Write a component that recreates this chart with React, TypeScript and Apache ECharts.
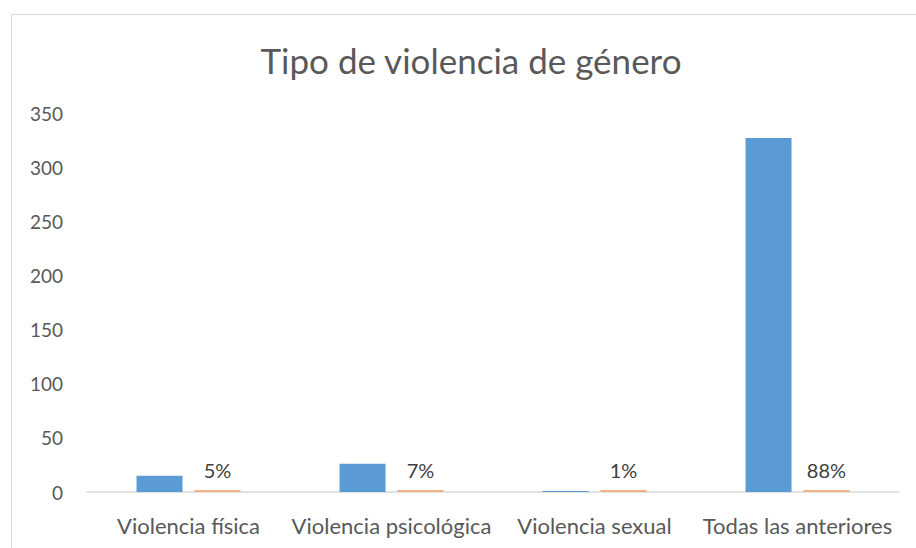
import React, { useEffect, useRef } from "react";
import * as echarts from "echarts";

const categories = ["Violencia física", "Violencia psicológica", "Violencia sexual", "Todas las anteriores"];
const counts = [15, 26, 1, 327];
const shares = [0.05, 0.07, 0.01, 0.88];
const yTicks = { min: 0, max: 350, interval: 50 };

const FONT = "Lato";

export default function App() {
  const ref = useRef<HTMLDivElement>(null);
  useEffect(() => {
    const chart = echarts.init(ref.current!, undefined, { renderer: "svg" });
    chart.setOption({
      animation: false,
      backgroundColor: "#ffffff",
      textStyle: { fontFamily: FONT },
      title: {
        text: "Tipo de violencia de género",
        left: 466,
        textAlign: "center",
        top: 37,
        textStyle: { fontFamily: FONT, fontSize: 35, fontWeight: "normal", color: "#595959" },
      },
      graphic: [
        {
          type: "rect",
          shape: { x: 11.5, y: 14.5, width: 940, height: 600 },
          style: { fill: "none", stroke: "#d9d9d9", lineWidth: 1 },
          silent: true,
        },
      ],
      grid: { left: 87, right: 17, top: 113, bottom: 56 },
      xAxis: {
        type: "category",
        data: categories,
        axisLine: { lineStyle: { color: "#d9d9d9", width: 1.5 } },
        axisTick: { show: false },
        axisLabel: { color: "#595959", fontSize: 22, margin: 22, fontFamily: FONT, interval: 0 },
      },
      yAxis: {
        type: "value",
        min: yTicks.min,
        max: yTicks.max,
        interval: yTicks.interval,
        axisLine: { show: false },
        axisTick: { show: false },
        splitLine: { show: false },
        axisLabel: { color: "#595959", fontSize: 19, margin: 24, fontFamily: FONT },
      },
      series: [
        {
          type: "bar",
          data: counts,
          barWidth: 46,
          barGap: "26%",
          itemStyle: { color: "#5b9bd5" },
        },
        {
          type: "bar",
          data: shares,
          barWidth: 46,
          barMinHeight: 2,
          itemStyle: { color: "#f4b183" },
          label: {
            show: true,
            position: "top",
            distance: 10,
            color: "#404040",
            fontSize: 20,
            fontFamily: FONT,
            formatter: (p: any) => Math.round(p.value * 100) + "%",
          },
        },
      ],
    });
    return () => chart.dispose();
  }, []);
  return <div ref={ref} style={{ position: "fixed", left: 0, top: 0, width: 916, height: 548 }} />;
}
